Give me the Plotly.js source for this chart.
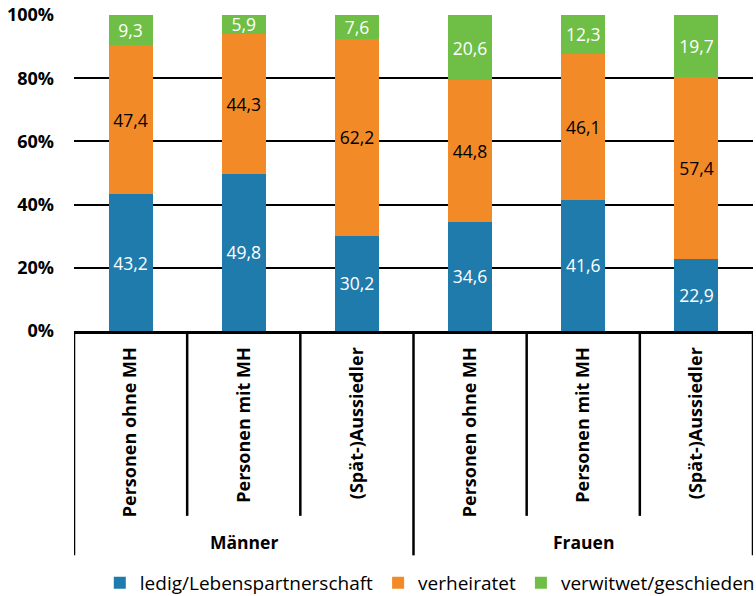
<!DOCTYPE html>
<html>
<head>
<meta charset="utf-8">
<script src="https://cdn.plot.ly/plotly-3.0.1.min.js"></script>
<style>html,body{margin:0;padding:0;background:#fff}</style>
</head>
<body>
<div id="chart" style="width:756px;height:596px"></div>
<script>
const groups = ["Männer", "Männer", "Männer", "Frauen", "Frauen", "Frauen"];
const subcategories = ["Personen ohne MH", "Personen mit MH", "(Spät-)Aussiedler", "Personen ohne MH", "Personen mit MH", "(Spät-)Aussiedler"];
const ledig = [43.2, 49.8, 30.2, 34.6, 41.6, 22.9];
const verheiratet = [47.4, 44.3, 62.2, 44.8, 46.1, 57.4];
const verwitwet = [9.3, 5.9, 7.6, 20.6, 12.3, 19.7];
const seriesNames = ["ledig/Lebenspartnerschaft", "verheiratet", "verwitwet/geschieden"];
const yTicks = [0, 20, 40, 60, 80, 100];

const FONT = "Open Sans, sans-serif";
const xs = subcategories.map((_, i) => i);
const colors = ["#1f7bab", "#f28a28", "#6fbe45"];
const textColors = ["#ffffff", "#000000", "#ffffff"];
const values = [ledig, verheiratet, verwitwet];

const traces = values.map((v, k) => ({
  type: "bar",
  name: seriesNames[k],
  x: xs,
  y: v,
  marker: {color: colors[k], line: {width: 0}},
  texttemplate: "%{y:.1f}",
  textposition: "inside",
  insidetextanchor: "middle",
  textfont: {family: FONT, size: 17.5, color: textColors[k]},
  hoverinfo: "skip"
}));

// divider lines and group labels for the two-level axis
const shapes = [];
const annotations = [];
const n = subcategories.length;
for (let i = 0; i <= n; i++) {
  const isGroupEdge = (i === 0 || i === n || groups[i] !== groups[i - 1]);
  shapes.push({
    type: "line", xref: "x", yref: "paper",
    x0: i - 0.5, x1: i - 0.5, y0: -0.005, y1: isGroupEdge ? -0.71 : -0.585,
    line: {color: "#000", width: 2.5}
  });
}
const uniqueGroups = [...new Set(groups)];
uniqueGroups.forEach(g => {
  const idx = groups.map((gg, i) => gg === g ? i : -1).filter(i => i >= 0);
  const mid = (idx[0] + idx[idx.length - 1]) / 2;
  annotations.push({
    xref: "x", yref: "paper", x: mid, y: -0.668, text: "<b>" + g + "</b>",
    showarrow: false, font: {family: FONT, size: 17.5, color: "#000"}, yanchor: "middle"
  });
});

const layout = {
  width: 756, height: 596,
  margin: {l: 74, r: 3, t: 15, b: 265},
  barmode: "stack",
  bargap: 0.61,
  separators: ",.",
  paper_bgcolor: "#fff", plot_bgcolor: "#fff",
  uniformtext: {mode: "show", minsize: 17.5},
  font: {family: FONT, color: "#000"},
  xaxis: {
    range: [-0.5, n - 0.5],
    tickmode: "array", tickvals: xs, ticktext: subcategories.map(s => "<b>" + s + "</b>"),
    tickangle: -90, tickfont: {family: FONT, size: 18, color: "#000"},
    showline: true, linecolor: "#000", linewidth: 3,
    showgrid: false, zeroline: false, ticks: "",
    ticklabelstandoff: 6, fixedrange: true, automargin: false
  },
  yaxis: {
    range: [0, 100], tickmode: "array", tickvals: yTicks,
    ticktext: yTicks.map(t => "<b>" + t + "%</b>"),
    tickfont: {family: FONT, size: 18, color: "#000"},
    showgrid: true, gridcolor: "#000", gridwidth: 2,
    zeroline: false, showline: false, ticks: "",
    ticklabelstandoff: 19, fixedrange: true, automargin: false
  },
  legend: {
    orientation: "h", xref: "container", yref: "container",
    x: 0.132, xanchor: "left", y: 0.022, yanchor: "middle",
    font: {family: FONT, size: 19, color: "#000"}, traceorder: "normal",
    itemclick: false, itemdoubleclick: false, itemwidth: 30
  },
  shapes: shapes,
  annotations: annotations
};

Plotly.newPlot("chart", traces, layout, {displayModeBar: false, staticPlot: true});
</script>
</body>
</html>
